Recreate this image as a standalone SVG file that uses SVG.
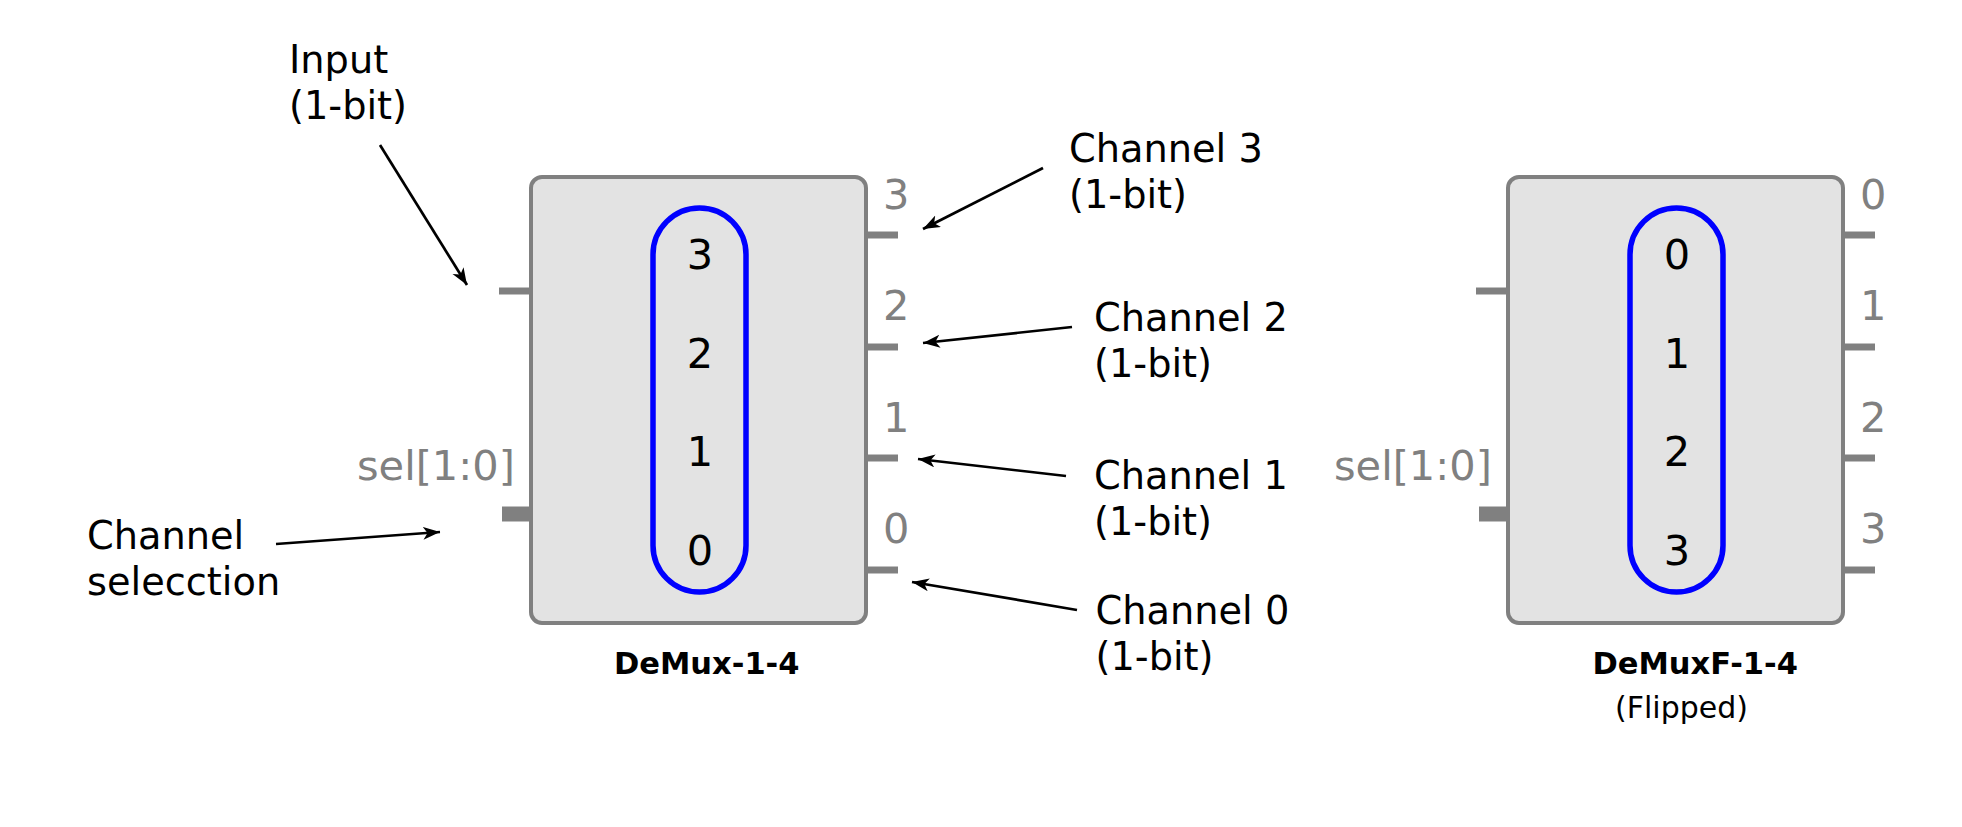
<svg xmlns="http://www.w3.org/2000/svg" width="1962" height="827" viewBox="0 0 1962 827">
<style>
.box{fill:#e3e3e3;stroke:#808080;stroke-width:4}
.pill{fill:none;stroke:#0000ff;stroke-width:5.5}
.pin{stroke:#808080;stroke-width:7}
.bus{stroke:#808080;stroke-width:15}
.gl{font-family:"DejaVu Sans",sans-serif;font-size:41.5px;fill:#808080}
.dg{font-family:"DejaVu Sans",sans-serif;font-size:41.5px;fill:#000;text-anchor:middle}
.an{font-family:"DejaVu Sans",sans-serif;font-size:38.3px;fill:#000}
.tt{font-family:"DejaVu Sans",sans-serif;font-size:30.5px;font-weight:bold;fill:#000}
.st{font-family:"DejaVu Sans",sans-serif;font-size:30px;fill:#000}
.arr{stroke:#000;stroke-width:2.7;fill:none;marker-end:url(#ah)}
</style>
<defs>
<marker id="ah" markerUnits="userSpaceOnUse" markerWidth="20" markerHeight="14" refX="17" refY="6.5" orient="auto">
<path d="M0,0 L17,6.5 L0,13 L4.5,6.5 Z" fill="#000"/>
</marker>
</defs>
<rect width="1962" height="827" fill="#fff"/>
<g id="demux">
<line class="pin" x1="499" y1="291" x2="531" y2="291"/>
<line class="bus" x1="502" y1="514" x2="531" y2="514"/>
<line class="pin" x1="866" y1="235" x2="898" y2="235"/>
<line class="pin" x1="866" y1="347" x2="898" y2="347"/>
<line class="pin" x1="866" y1="458" x2="898" y2="458"/>
<line class="pin" x1="866" y1="570" x2="898" y2="570"/>
<rect class="box" x="531" y="177" width="335" height="446" rx="11"/>
<rect class="pill" x="653" y="208" width="93" height="384" rx="46.5"/>
<text class="dg" x="700" y="269">3</text>
<text class="dg" x="700" y="368">2</text>
<text class="dg" x="700" y="466">1</text>
<text class="dg" x="700" y="565">0</text>
<text class="gl" x="883" y="209">3</text>
<text class="gl" x="883" y="320">2</text>
<text class="gl" x="883" y="432">1</text>
<text class="gl" x="883" y="543">0</text>
<text class="gl" x="357" y="480">sel[1:0]</text>
<text class="tt" x="614" y="674">DeMux-1-4</text>
</g>
<g id="demuxf">
<line class="pin" x1="1476" y1="291" x2="1508" y2="291"/>
<line class="bus" x1="1479" y1="514" x2="1508" y2="514"/>
<line class="pin" x1="1843" y1="235" x2="1875" y2="235"/>
<line class="pin" x1="1843" y1="347" x2="1875" y2="347"/>
<line class="pin" x1="1843" y1="458" x2="1875" y2="458"/>
<line class="pin" x1="1843" y1="570" x2="1875" y2="570"/>
<rect class="box" x="1508" y="177" width="335" height="446" rx="11"/>
<rect class="pill" x="1630" y="208" width="93" height="384" rx="46.5"/>
<text class="dg" x="1677" y="269">0</text>
<text class="dg" x="1677" y="368">1</text>
<text class="dg" x="1677" y="466">2</text>
<text class="dg" x="1677" y="565">3</text>
<text class="gl" x="1860" y="209">0</text>
<text class="gl" x="1860" y="320">1</text>
<text class="gl" x="1860" y="432">2</text>
<text class="gl" x="1860" y="543">3</text>
<text class="gl" x="1334" y="480">sel[1:0]</text>
<text class="tt" x="1592.5" y="674">DeMuxF-1-4</text>
<text class="st" x="1615" y="718">(Flipped)</text>
</g>
<g id="labels">
<text class="an" x="289" y="73">Input</text>
<text class="an" x="289" y="118.5">(1-bit)</text>
<text class="an" x="87" y="549">Channel</text>
<text class="an" x="87" y="594.5">selecction</text>
<text class="an" x="1069" y="162">Channel 3</text>
<text class="an" x="1069" y="207.5">(1-bit)</text>
<text class="an" x="1094" y="331">Channel 2</text>
<text class="an" x="1094" y="376.5">(1-bit)</text>
<text class="an" x="1094" y="489">Channel 1</text>
<text class="an" x="1094" y="534.5">(1-bit)</text>
<text class="an" x="1095.5" y="624">Channel 0</text>
<text class="an" x="1095.5" y="669.5">(1-bit)</text>
</g>
<g id="connectors">
<line class="arr" x1="380" y1="145" x2="467" y2="285"/>
<line class="arr" x1="276" y1="544" x2="440" y2="532"/>
<line class="arr" x1="1043" y1="168" x2="923" y2="229"/>
<line class="arr" x1="1072" y1="327" x2="923" y2="343"/>
<line class="arr" x1="1066" y1="476" x2="918" y2="459"/>
<line class="arr" x1="1077" y1="610" x2="912" y2="582"/>
</g>
</svg>
